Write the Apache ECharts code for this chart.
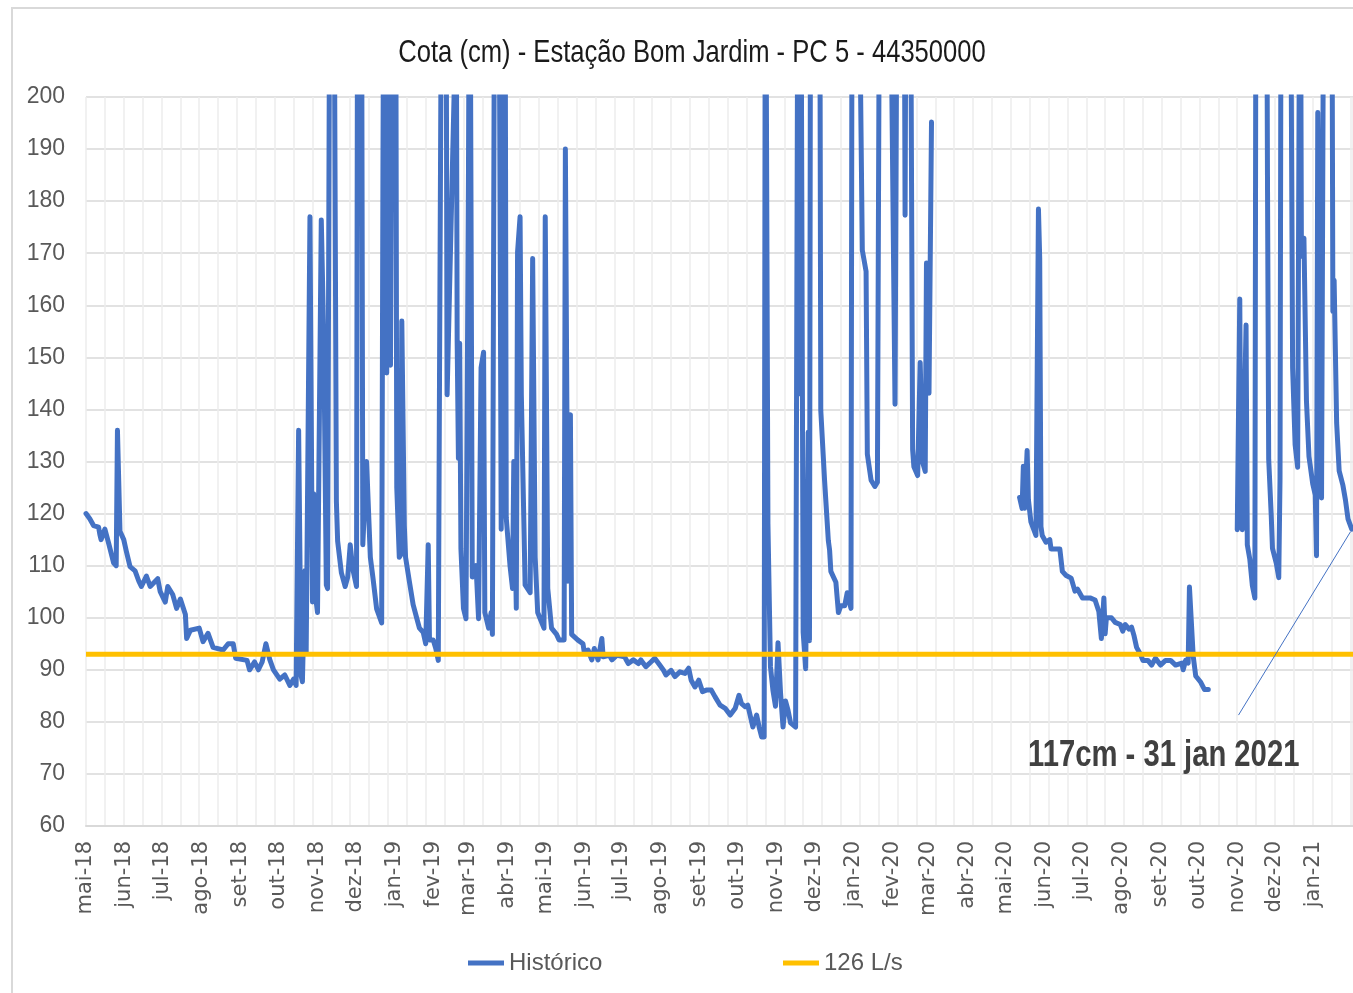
<!DOCTYPE html>
<html><head><meta charset="utf-8">
<script src="https://cdn.jsdelivr.net/npm/echarts@6/dist/echarts.min.js"></script>
<style>html,body{margin:0;padding:0;background:#fff}#c{width:1353px;height:993px}</style>
</head><body><div id="c"></div>
<script>
const titulo = 'Cota (cm) - Estação Bom Jardim - PC 5 - 44350000';
const nomeSerie = 'Histórico';
const nomeLimite = '126 L/s';
const meses = ['jan','fev','mar','abr','mai','jun','jul','ago','set','out','nov','dez'];
const inicio = '2018-05-01';
const fim = '2021-02-01';
const limite126 = 93;
const anotacao = '117cm - 31 jan 2021';
const anotacaoDe = ['2020-11-02', 81.3];
const anotacaoAte = ['2021-01-30', 116.5];

const datas = [
'2018-05-01','2018-05-04','2018-05-07','2018-05-11','2018-05-12','2018-05-13','2018-05-16','2018-05-19','2018-05-23','2018-05-25','2018-05-26','2018-05-28','2018-05-31',
'2018-06-02','2018-06-05','2018-06-09','2018-06-12','2018-06-14','2018-06-18','2018-06-21','2018-06-27','2018-06-29',
'2018-07-03','2018-07-05','2018-07-09','2018-07-12','2018-07-15','2018-07-19','2018-07-20','2018-07-23','2018-07-30',
'2018-08-02','2018-08-06','2018-08-10','2018-08-18','2018-08-22','2018-08-26','2018-08-28',
'2018-09-06','2018-09-08','2018-09-12','2018-09-15','2018-09-18','2018-09-21','2018-09-24','2018-09-27',
'2018-10-02','2018-10-06','2018-10-10','2018-10-13','2018-10-15','2018-10-17','2018-10-19','2018-10-20','2018-10-22','2018-10-23','2018-10-26','2018-10-28','2018-10-29','2018-10-31',
'2018-11-01','2018-11-04','2018-11-06','2018-11-08','2018-11-09','2018-11-11','2018-11-14','2018-11-16','2018-11-17','2018-11-20','2018-11-23','2018-11-25','2018-11-27','2018-11-29',
'2018-12-02','2018-12-03','2018-12-06','2018-12-07','2018-12-10','2018-12-13','2018-12-15','2018-12-18','2018-12-22','2018-12-23','2018-12-24','2018-12-26','2018-12-28','2018-12-29','2018-12-31',
'2019-01-02','2019-01-03','2019-01-05','2019-01-06','2019-01-07','2019-01-09','2019-01-10','2019-01-13','2019-01-16','2019-01-19','2019-01-21','2019-01-24','2019-01-26','2019-01-28','2019-01-29',
'2019-02-01','2019-02-03','2019-02-05','2019-02-06','2019-02-08','2019-02-11','2019-02-12','2019-02-18','2019-02-19','2019-02-20','2019-02-21','2019-02-22','2019-02-23','2019-02-25','2019-02-27',
'2019-03-01','2019-03-02','2019-03-04','2019-03-07','2019-03-09','2019-03-11','2019-03-13','2019-03-14','2019-03-17','2019-03-19','2019-03-20','2019-03-22','2019-03-25','2019-03-27','2019-03-28','2019-03-30','2019-03-31',
'2019-04-03','2019-04-05','2019-04-06','2019-04-08','2019-04-09','2019-04-11','2019-04-12','2019-04-15','2019-04-19','2019-04-21','2019-04-23','2019-04-25','2019-04-30',
'2019-05-01','2019-05-03','2019-05-06','2019-05-10','2019-05-12','2019-05-16','2019-05-17','2019-05-19','2019-05-21','2019-05-22','2019-05-27','2019-05-31',
'2019-06-01','2019-06-04','2019-06-07','2019-06-09','2019-06-12','2019-06-15','2019-06-16','2019-06-21','2019-06-23','2019-06-27',
'2019-07-03','2019-07-06','2019-07-10','2019-07-14','2019-07-16','2019-07-20','2019-07-24','2019-07-27','2019-07-31',
'2019-08-03','2019-08-05','2019-08-09','2019-08-12','2019-08-16','2019-08-20','2019-08-23','2019-08-25','2019-08-28','2019-08-31',
'2019-09-03','2019-09-06','2019-09-10','2019-09-13','2019-09-17','2019-09-21','2019-09-25','2019-09-29',
'2019-10-02','2019-10-04','2019-10-07','2019-10-09','2019-10-13','2019-10-16','2019-10-18','2019-10-20','2019-10-22','2019-10-23','2019-10-24','2019-10-25','2019-10-27','2019-10-29','2019-10-31',
'2019-11-02','2019-11-04','2019-11-06','2019-11-08','2019-11-10','2019-11-12','2019-11-16','2019-11-18','2019-11-19','2019-11-20','2019-11-22','2019-11-24','2019-11-26','2019-11-27','2019-11-28','2019-11-29',
'2019-12-04','2019-12-05','2019-12-06','2019-12-09','2019-12-12','2019-12-13','2019-12-14','2019-12-18','2019-12-20','2019-12-22','2019-12-25','2019-12-27','2019-12-30','2019-12-31',
'2020-01-04','2020-01-08','2020-01-11','2020-01-12','2020-01-15','2020-01-18','2020-01-20','2020-01-22','2020-01-29',
'2020-02-03','2020-02-05','2020-02-10','2020-02-11','2020-02-12','2020-02-15','2020-02-17','2020-02-18','2020-02-21','2020-02-23','2020-02-25','2020-02-27','2020-02-28',
'2020-03-01','2020-03-03','2020-03-04',
'2020-05-12','2020-05-14','2020-05-15','2020-05-16','2020-05-18','2020-05-19','2020-05-21','2020-05-25','2020-05-27','2020-05-28','2020-05-29','2020-05-30',
'2020-06-02','2020-06-05','2020-06-06','2020-06-13','2020-06-15','2020-06-18','2020-06-22','2020-06-25','2020-06-27',
'2020-07-01','2020-07-07','2020-07-11','2020-07-14','2020-07-16','2020-07-18','2020-07-19','2020-07-20','2020-07-24','2020-07-27','2020-07-31',
'2020-08-02','2020-08-04','2020-08-07','2020-08-09','2020-08-11','2020-08-13','2020-08-16','2020-08-18','2020-08-22','2020-08-25','2020-08-28',
'2020-09-01','2020-09-05','2020-09-09','2020-09-13','2020-09-18','2020-09-19','2020-09-21','2020-09-23','2020-09-24','2020-09-27','2020-09-29',
'2020-10-03','2020-10-06','2020-10-09','2020-10-10',
'2020-11-01','2020-11-03','2020-11-04','2020-11-05','2020-11-08','2020-11-09','2020-11-11','2020-11-13','2020-11-15','2020-11-16','2020-11-24','2020-11-25','2020-11-26','2020-11-28','2020-11-29',
'2020-12-02','2020-12-04','2020-12-05','2020-12-06','2020-12-13','2020-12-15','2020-12-17','2020-12-19','2020-12-21','2020-12-22','2020-12-24','2020-12-26','2020-12-28','2020-12-31',
'2021-01-02','2021-01-03','2021-01-04','2021-01-07','2021-01-09','2021-01-15','2021-01-16','2021-01-17','2021-01-19','2021-01-21','2021-01-24','2021-01-26','2021-01-28','2021-01-31'
];

const cota = [
120,119,117.7,117.4,116,115,117,114.3,110.5,110,136,116.6,115,
112.8,109.8,109,107,106,108,106,107.5,105,
103,106,104.4,101.8,103.6,100.6,96,97.6,98,
95.4,97,94.3,93.8,95,95,92.2,
91.8,90,91.5,90,91.5,95,92,90,
88.2,89,87,88.2,87,136,88.8,87.7,109,93.4,177,103,123.8,103,
101,176.4,153,106.3,105.6,250,240,122.3,114.7,108.6,106,107.8,114,109.4,
106,250,230,114,130,111.6,107.8,101.7,99,186,250,147,250,148.5,250,
250,125,111.6,112,157,117.7,111.6,107,102.5,99.8,98,97.2,95,114,95.7,
95.7,94.1,91.8,148,250,250,142.8,205,250,153,130.6,152.7,113.2,101.8,99.8,
186,250,107.8,110,99.8,148,151,101,98,101,96.8,250,250,117,250,240,119.2,
110,105.6,130,101.8,170.2,177,142.8,106.3,104.8,169,111.6,101,98,
177,105.6,98,96.8,95.7,95.7,190,107,139,96.8,95.7,95,
93.4,93.8,91.9,94.1,91.9,96,92.5,92.8,91.9,92.8,
92.5,91.2,91.9,91.2,91.9,90.6,91.5,92.2,90.9,
89.9,89,89.9,88.7,89.6,89.3,90.3,88,86.7,88,
85.8,86.1,86.1,84.8,83.2,82.6,81.3,82.6,
85.1,83.5,82.9,83.2,79,81.3,79,77.1,77.1,250,250,118,90.6,86,83,
95.2,85.6,79,84,82.2,79.8,79,250,143,250,97.2,90.2,135.6,95.6,250,260,
260,250,139.8,126.4,114.8,113,108.9,106.8,101,102.3,102.3,104.8,101.8,250,
260,170.6,166.5,131.4,126.4,125.2,126,250,260,
141,250,250,177.3,250,250,132.3,129,127.3,149,129.8,128.1,168.1,
143.1,195.2,null,
123.1,121,129.1,121,132.1,122.7,118.4,115.8,178.5,169,117.5,115.8,
114.5,115,113.2,113.2,108.9,108.1,107.6,105.1,105.5,
103.8,103.8,103.4,101.2,96,103.8,96.9,100,100,99.1,98.7,
97.4,98.7,97.8,98.2,96.5,94.3,93,91.8,91.8,90.9,92.2,
90.9,91.8,91.8,90.9,91.3,90,91.8,91.3,105.9,92.6,88.8,
87.6,86.2,86.2,null,
116.9,161.2,123.3,116.9,156.2,114,111.2,106.2,103.8,250,260,186,130.4,119.7,113.3,
110.5,107.7,126.8,250,250,148,133.2,128.9,250,169.4,172.9,141.7,131,125.7,
123.6,111.9,197,123,250,250,158.8,164.8,137.4,128.2,125.4,122.6,119,117
];

const DIA = 86400000;
const totalDias = Math.round((echarts.time.parse(fim) - echarts.time.parse(inicio)) / DIA);
const sans = "'Liberation Sans',Arial,sans-serif";

const chart = echarts.init(document.getElementById('c'), null, {renderer: 'canvas'});
chart.setOption({
  animation: false,
  backgroundColor: '#ffffff',
  graphic: [{
    type: 'rect', x: 12, y: 8, z: -10, silent: true,
    shape: {x: 0, y: 0, width: 1400, height: 1000},
    style: {fill: 'none', stroke: '#d9d9d9', lineWidth: 2}
  }, {
    type: 'text', x: 692, y: 53, scaleX: 0.8, z: 10, silent: true,
    style: {text: titulo, fontFamily: sans, fontSize: 32, fill: '#1a1a1a',
      align: 'center', verticalAlign: 'middle', textAlign: 'center', textVerticalAlign: 'middle'}
  }, {
    type: 'text', x: 1028, y: 756, scaleX: 0.79, z: 10, silent: true,
    style: {text: anotacao, fontFamily: sans, fontSize: 37, fontWeight: 'bold', fill: '#404040',
      align: 'left', verticalAlign: 'middle', textAlign: 'left', textVerticalAlign: 'middle'}
  }],
  legend: [{
    data: [nomeSerie], left: 468, top: 951, padding: 0, icon: 'rect', itemWidth: 36, itemHeight: 5,
    textStyle: {fontFamily: sans, fontSize: 24, color: '#595959'}
  }, {
    data: [nomeLimite], left: 783, top: 951, padding: 0, icon: 'rect', itemWidth: 36, itemHeight: 5,
    textStyle: {fontFamily: sans, fontSize: 24, color: '#595959'}
  }],
  grid: {left: 86, right: 0, top: 97, bottom: 167, containLabel: false},
  xAxis: [{
    type: 'time', min: inicio, max: fim,
    splitNumber: 33, maxInterval: 31 * DIA, minInterval: 28 * DIA,
    axisLine: {show: true, lineStyle: {color: '#d9d9d9', width: 2}},
    axisTick: {show: false},
    splitLine: {show: false},
    axisLabel: {
      rotate: 90, margin: 15, fontFamily: "'DejaVu Sans',Verdana,sans-serif", fontSize: 21, color: '#595959',
      showMaxLabel: false, hideOverlap: false,
      formatter: function (v) {
        const d = new Date(v);
        if (d.getDate() !== 1 || v >= echarts.time.parse(fim)) return '';
        return meses[d.getMonth()] + '-' + String(d.getFullYear()).slice(2);
      }
    }
  }, {
    type: 'value', min: 0, max: totalDias, interval: 15, position: 'bottom',
    axisLine: {show: false}, axisTick: {show: false}, axisLabel: {show: false},
    splitLine: {show: true, lineStyle: {color: '#ececec', width: 1.5}}
  }],
  yAxis: {
    type: 'value', min: 60, max: 200, interval: 10,
    axisLine: {show: false}, axisTick: {show: false},
    axisLabel: {fontFamily: sans, fontSize: 23, color: '#595959', margin: 21},
    splitLine: {show: true, lineStyle: {color: '#d9d9d9', width: 1.5}}
  },
  series: [{
    name: nomeSerie, type: 'line', xAxisIndex: 0,
    data: datas.map((d, i) => [d, cota[i]]),
    showSymbol: false, connectNulls: false, clip: true,
    lineStyle: {color: '#4472C4', width: 5, join: 'round', cap: 'round'},
    itemStyle: {color: '#4472C4'},
    markLine: {
      silent: true, symbol: ['none', 'none'], label: {show: false},
      lineStyle: {color: '#4472C4', width: 1, type: 'solid'},
      emphasis: {disabled: true},
      data: [[{coord: anotacaoDe}, {coord: anotacaoAte}]]
    }
  }, {
    name: nomeLimite, type: 'line', xAxisIndex: 0,
    data: [[inicio, limite126], [fim, limite126]],
    showSymbol: false,
    lineStyle: {color: '#FFC000', width: 5},
    itemStyle: {color: '#FFC000'}
  }]
});
</script>
</body></html>
